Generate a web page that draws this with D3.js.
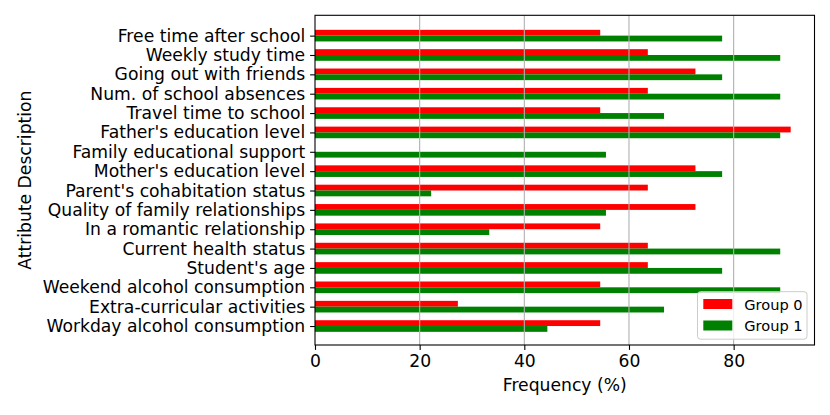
<!DOCTYPE html>
<html><head><meta charset="utf-8">
<script src="https://cdn.jsdelivr.net/npm/d3@7"></script>
<style>html,body{margin:0;padding:0;background:#fff;} svg{display:block;font-family:"DejaVu Sans",sans-serif;}</style>
</head><body><svg id="c" width="830" height="415"></svg>
<script>
const categories = ["Free time after school","Weekly study time","Going out with friends","Num. of school absences","Travel time to school","Father's education level","Family educational support","Mother's education level","Parent's cohabitation status","Quality of family relationships","In a romantic relationship","Current health status","Student's age","Weekend alcohol consumption","Extra-curricular activities","Workday alcohol consumption"];
const group0 = [54.5,63.6,72.7,63.6,54.5,90.9,0,72.7,63.6,72.7,54.5,63.6,63.6,54.5,27.3,54.5];
const group1 = [77.8,88.9,77.8,88.9,66.7,88.9,55.6,77.8,22.2,55.6,33.3,88.9,77.8,88.9,66.7,44.4];
const seriesNames = ["Group 0","Group 1"];
const xTicks = [0,20,40,60,80];

const svg = d3.select("#c");
const L=315, R=814.5, T=15.3, B=345;
const n = categories.length;
const FS = "17.2px";
const x = d3.scaleLinear().domain([0,95.45]).range([L,R]);
// index 0 at bottom
const y = d3.scaleLinear().domain([-0.98, n-1+1.05]).range([B,T]);
const unit = y(0)-y(1);
const bh = 0.3*unit;
const colors = ["#ff0000","#008000"];
const pos = (i)=> y(n-1-i);

const g = svg.append("g");
categories.forEach((c,i)=>{
  const yc = pos(i);
  g.append("rect").attr("x",x(0)).attr("y",yc-bh).attr("width",x(group0[i])-x(0)).attr("height",bh).attr("fill",colors[0]);
  g.append("rect").attr("x",x(0)).attr("y",yc).attr("width",x(group1[i])-x(0)).attr("height",bh).attr("fill",colors[1]);
});

// grid
svg.append("g").selectAll("line").data(xTicks.slice(1)).join("line")
  .attr("x1",d=>x(d)).attr("x2",d=>x(d)).attr("y1",T).attr("y2",B)
  .attr("stroke","#b0b0b0").attr("stroke-width",1.1);

// axes
const xa = svg.append("g").attr("transform",`translate(0,${B})`)
  .call(d3.axisBottom(x).tickValues(xTicks).tickSize(4.9).tickPadding(4.6).tickFormat(d3.format("d")));
const ya = svg.append("g").attr("transform",`translate(${L},0)`)
  .call(d3.axisLeft(d3.scalePoint().domain(categories).range([pos(0),pos(n-1)])).tickSize(4.9).tickPadding(4.9));
[xa,ya].forEach(a=>{
  a.select(".domain").remove();
  a.selectAll(".tick line").attr("stroke","#000").attr("stroke-width",1.1);
  a.selectAll(".tick text").attr("fill","#000").style("font-size",FS).style("font-family","DejaVu Sans");
});
// frame
svg.append("rect").attr("x",L).attr("y",T).attr("width",R-L).attr("height",B-T)
  .attr("fill","none").attr("stroke","#000").attr("stroke-width",1.1);

svg.append("text").attr("x",(L+R)/2).attr("y",391).attr("text-anchor","middle")
  .style("font-size",FS).text("Frequency (%)");
svg.append("text").attr("transform",`translate(31,${(T+B)/2}) rotate(-90)`).attr("text-anchor","middle")
  .style("font-size",FS).text("Attribute Description");

// legend
const lg = svg.append("g");
lg.append("rect").attr("x",697.5).attr("y",291.7).attr("width",109.5).attr("height",47.5).attr("rx",3)
  .attr("fill","#fff").attr("fill-opacity",0.8).attr("stroke","#cccccc").attr("stroke-width",1);
seriesNames.forEach((s,i)=>{
  const yy = 299 + i*21.5;
  lg.append("rect").attr("x",703.3).attr("y",yy).attr("width",29).attr("height",10).attr("fill",colors[i]);
  lg.append("text").attr("x",744.3).attr("y",yy+10.5).style("font-size","14.6px").text(s);
});
</script></body></html>
